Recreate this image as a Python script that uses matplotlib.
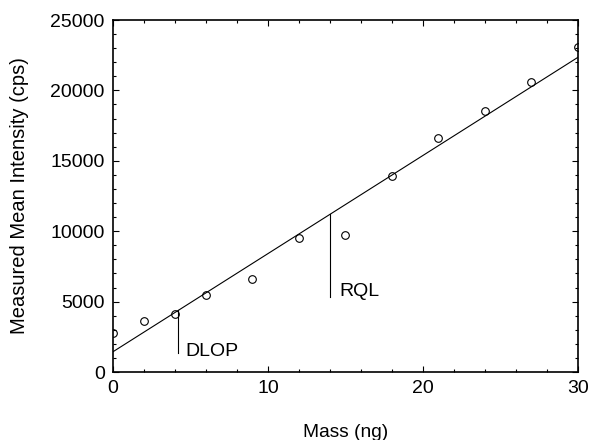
import matplotlib
matplotlib.use("Agg")
import matplotlib.pyplot as plt
from matplotlib.ticker import MultipleLocator
import numpy as np

plt.rcParams['font.family'] = ['Liberation Sans', 'DejaVu Sans']

mass = [0, 2, 4, 6, 9, 12, 15, 18, 21, 24, 27, 30]
intensity = [2750, 3640, 4120, 5450, 6630, 9490, 9710, 13940, 16600, 18560, 20620, 23100]

fit_x = [0, 30]
fit_y = [1440, 22350]

dlop_x = 4.21
dlop_y = [1370, 4380]
rql_x = 14.02
rql_y = [5300, 11200]

fig = plt.figure(figsize=(5.9, 4.4), dpi=100)
ax = fig.add_axes([0.1915, 0.1545, 0.788, 0.8])

ax.plot(fit_x, fit_y, color='black', lw=0.8)
ax.plot(mass, intensity, 'o', mfc='none', mec='black', ms=5.5, mew=0.8)
ax.plot([dlop_x, dlop_x], dlop_y, color='black', lw=0.8)
ax.plot([rql_x, rql_x], rql_y, color='black', lw=0.8)
ax.text(4.69, 1440, 'DLOP', fontsize=14, va='center', ha='left')
ax.text(14.6, 5750, 'RQL', fontsize=14, va='center', ha='left')

ax.set_xlim(0, 30)
ax.set_ylim(0, 25000)
ax.xaxis.set_major_locator(MultipleLocator(10))
ax.xaxis.set_minor_locator(MultipleLocator(2))
ax.yaxis.set_major_locator(MultipleLocator(5000))
ax.yaxis.set_minor_locator(MultipleLocator(1000))
ax.tick_params(which='both', direction='in', top=True, right=True, labelsize=14, width=0.8)
ax.tick_params(which='major', length=4, pad=6)
ax.tick_params(which='minor', length=2.5)
for s in ax.spines.values():
    s.set_linewidth(1.2)

ax.set_xlabel('Mass (ng)', fontsize=13.8, labelpad=19)
ax.set_ylabel('Measured Mean Intensity (cps)', fontsize=14.5, labelpad=15)

fig.savefig('out.png', dpi=100)
